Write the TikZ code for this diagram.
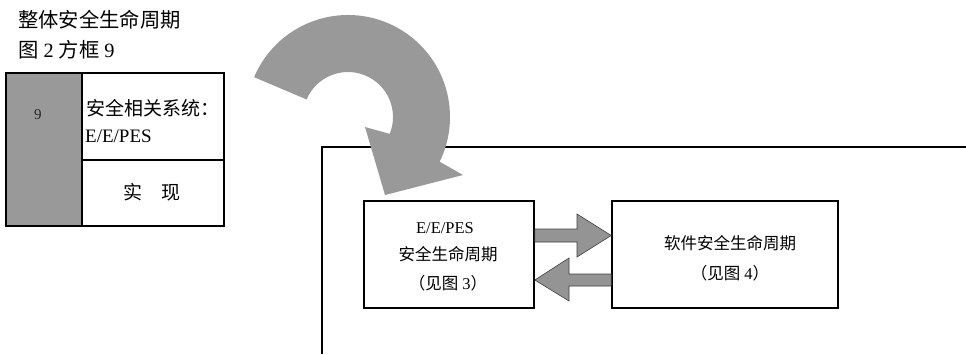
\documentclass[tikz,border=0pt]{standalone}
\usepackage{fontspec}
\usetikzlibrary{calc}
\setmainfont{Liberation Serif}
\newfontfamily\cjk{Noto Sans CJK SC}
\begin{document}
\begin{tikzpicture}[x=1pt,y=1pt,
  boxline/.style={draw=black,line width=1.6pt},
  shade/.style={fill=black!40},
  titletxt/.style={anchor=west,inner sep=0pt,font=\fontsize{20.3}{23}\selectfont},
  lbltxt/.style={inner sep=0pt,font=\fontsize{19}{22}\selectfont},
  boxtxt/.style={inner sep=0pt,font=\fontsize{16.5}{19}\selectfont},
  blockarrow/.style={fill=black!42,draw=black!75,line width=0.6pt}]
\useasboundingbox (0,0) rectangle (966,-354);
% titles
\node[titletxt] (t1) at (18,-20) {\cjk 整体安全生命周期};
\node[titletxt] (t2) at (18,-50) {{\cjk 图} 2 {\cjk 方框} 9};
% left block
\fill[shade] (6,-73) rectangle (82,-226);
\draw[boxline] (6,-73) rectangle (224,-226);
\draw[boxline] (82,-73) -- (82,-226);
\draw[boxline] (82,-160) -- (224,-160);
\node[inner sep=0pt,font=\fontsize{15}{17}\selectfont,text=black!85] (nine) at (38,-115) {9};
\node[lbltxt,anchor=west] (l1) at (86,-108) {\cjk 安全相关系统：};
\node[lbltxt,anchor=west] (l2) at (85,-136) {E/E/PES};
\node[lbltxt] (l3) at (152,-192) {\cjk 实\hspace{1.05em}现};
% frame
\draw[boxline] (322,-354) -- (322,-147) -- (966,-147);
% curved arrow
\fill[black!40] (348,-117) ++(157:102) arc[start angle=157,end angle=-26,radius=102]
  -- (463,-175) -- (385,-195) -- (365,-127)
  -- ($(348,-117)+(-22:45)$) arc[start angle=-22,end angle=157,radius=45] -- cycle;
% boxes
\node[boxline,minimum width=170pt,minimum height=107pt,inner sep=0pt] (b1) at (449,-254.5) {};
\node[boxline,minimum width=226pt,minimum height=107pt,inner sep=0pt] (b2) at (725,-254.5) {};
\node[boxtxt] (b1a) at (445,-228) {E/E/PES};
\node[boxtxt] (b1b) at (448,-254) {\cjk 安全生命周期};
\node[boxtxt] (b1c) at (448,-283) {{\cjk （见图} 3{\cjk ）}};
\node[boxtxt] (b2a) at (730,-243) {\cjk 软件安全生命周期};
\node[boxtxt] (b2b) at (730,-273) {{\cjk （见图} 4{\cjk ）}};
% block arrows
\draw[blockarrow] (b1.east |- 0,-229) -- (577,-229) -- (577,-214) -- (b2.west |- 0,-235.5)
  -- (577,-257) -- (577,-242) -- (b1.east |- 0,-242) -- cycle;
\draw[blockarrow] (b2.west |- 0,-274) -- (569,-274) -- (569,-258) -- (b1.east |- 0,-280)
  -- (569,-301) -- (569,-286) -- (b2.west |- 0,-286) -- cycle;
\end{tikzpicture}
\end{document}
